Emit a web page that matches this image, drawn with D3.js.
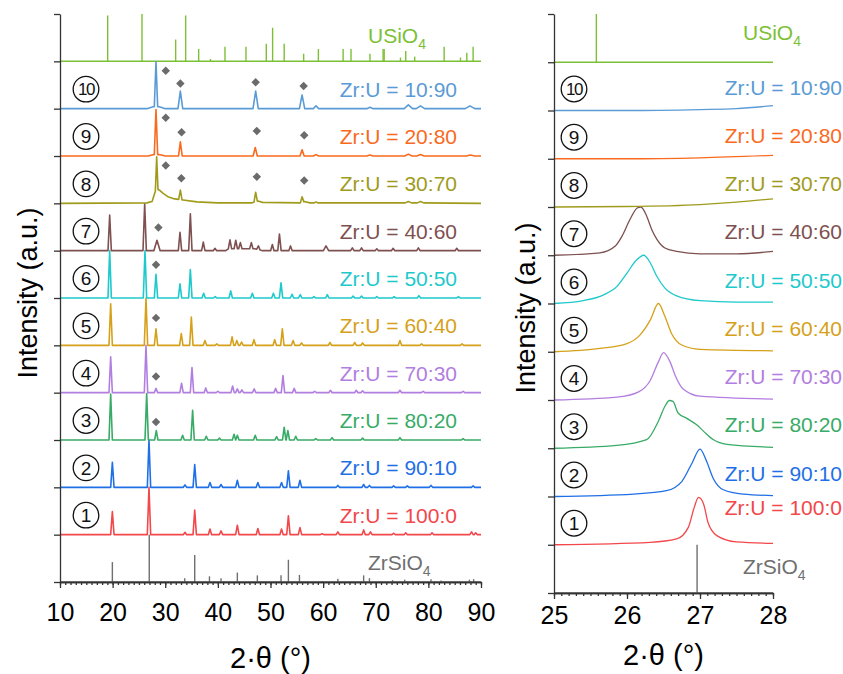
<!DOCTYPE html>
<html><head><meta charset="utf-8">
<script src="https://cdn.jsdelivr.net/npm/d3@7"></script>
<style>body{margin:0;background:#fff} svg{display:block} text{font-family:"Liberation Sans",Arial,sans-serif}</style>
</head><body><svg id="c" width="843" height="674"></svg>
<script>
// ---------- DATA ----------
const sampleNumbers = ["1","2","3","4","5","6","7","8","9","10"];
const sampleLabels = ["Zr:U = 100:0","Zr:U = 90:10","Zr:U = 80:20","Zr:U = 70:30","Zr:U = 60:40",
  "Zr:U = 50:50","Zr:U = 40:60","Zr:U = 30:70","Zr:U = 20:80","Zr:U = 10:90"];
const sampleColors = ["#f2474b","#1f6fe6","#38ab67","#b27ee0","#d6a11a","#1ec9cc","#7e5050","#a09b1c","#fa6a1e","#5b9bd5"];
const leftTicks = [10,20,30,40,50,60,70,80,90];
const rightTicks = [25,26,27,28];

// reference stick patterns [2theta, rel. intensity]
const usio4Sticks = [[19.06,0.97],[25.58,1.0],[31.98,0.46],[33.88,0.97],[36.35,0.26],[38.6,0.05],[41.35,0.31],[45.34,0.31],
  [49.2,0.37],[50.4,0.71],[52.6,0.37],[56.3,0.16],[59.1,0.26],[63.8,0.26],[65.3,0.26],[68.9,0.16],[71.4,0.26],[71.6,0.26],
  [74.7,0.08],[75.7,0.22],[77.4,0.1],[83.0,0.31],[86.1,0.08],[87.3,0.18],[88.5,0.31]];
const zrsio4Sticks = [[19.95,0.42],[26.96,1.0],[33.7,0.08],[35.6,0.57],[38.4,0.12],[40.6,0.08],[43.7,0.2],[47.5,0.14],
  [52.0,0.14],[53.4,0.47],[55.5,0.15],[59.8,0.02],[62.8,0.07],[67.7,0.14],[68.8,0.08],[73.2,0.04],[75.5,0.05],[80.5,0.06],
  [82.4,0.03],[87.8,0.05],[88.6,0.06]];

// full scans (10-90°): peaks [2theta, height, optional half-width]
const peaks1 = [[19.95,0.49],[26.91,1.0],[33.75,0.05],[35.6,0.52],[38.5,0.12],[40.6,0.08],[43.7,0.2],[47.6,0.13],[52.1,0.12],
  [53.4,0.4],[55.6,0.15],[59.8,0.02],[62.8,0.06],[67.7,0.1],[69.0,0.06],[73.4,0.03],[75.7,0.04],[80.7,0.04],[88.2,0.06],[89.0,0.04]];
const peaks2 = [[19.95,0.53],[26.91,1.0],[33.75,0.05],[35.6,0.48],[38.5,0.1],[40.6,0.06],[43.7,0.15],[47.6,0.1],[52.1,0.1],
  [53.4,0.35],[55.6,0.15],[62.8,0.04],[67.7,0.06],[68.8,0.04],[73.4,0.03],[76.0,0.03],[80.5,0.04],[88.5,0.03]];
const peaks3 = [[19.63,0.97],[26.47,0.98],[28.3,0.2],[33.3,0.1],[35.2,0.63],[37.8,0.08],[40.3,0.04],[43.07,0.12],[43.7,0.1],
  [47.1,0.1],[51.16,0.07],[52.6,0.27],[53.3,0.2],[54.8,0.08],[58.6,0.03],[61.7,0.05],[67.5,0.04],[74.6,0.05],[86.6,0.03]];
const peaks4 = [[19.63,0.76],[26.34,1.0],[28.24,0.09],[33.1,0.2],[35.08,0.53],[37.7,0.1],[40.0,0.03],[42.8,0.14],[43.7,0.08],
  [44.55,0.06],[46.9,0.08],[50.97,0.09],[52.37,0.36],[54.5,0.09],[58.4,0.03],[61.4,0.05],[66.3,0.05],[67.5,0.04],[74.6,0.05],
  [79.0,0.03],[86.6,0.03]];
const peaks5 = [[19.63,0.88],[26.34,1.0],[28.24,0.35],[33.05,0.25],[34.96,0.6],[37.55,0.1],[39.8,0.03],[42.7,0.18],[43.6,0.1],
  [44.5,0.07],[46.86,0.12],[50.8,0.12],[52.25,0.35],[54.3,0.1],[55.9,0.05],[61.3,0.06],[66.0,0.06],[67.5,0.05],[74.6,0.1],
  [78.7,0.03],[86.4,0.03]];
const peaks6 = [[19.44,1.0],[26.15,1.0],[28.24,0.5],[32.8,0.3],[34.77,0.6],[37.3,0.1],[39.5,0.03],[42.44,0.15],[46.55,0.1],
  [50.55,0.1],[52.0,0.32],[54.1,0.08],[55.66,0.07],[58.26,0.03],[60.8,0.07],[65.7,0.04],[67.3,0.04],[70.2,0.03],[73.5,0.03],
  [78.2,0.05],[85.7,0.03]];
const peaks7 = [[19.44,0.75],[26.09,0.99],[28.43,0.22,0.6],[32.8,0.39],[34.77,0.78],[37.23,0.18],[39.45,0.05],[42.3,0.19],
  [43.4,0.18],[44.27,0.13],[46.36,0.13],[47.7,0.08],[50.35,0.13],[51.7,0.35],[53.8,0.1],[60.55,0.1,0.5],[65.55,0.06],[67.3,0.06],
  [70.2,0.04],[73.3,0.05],[78.1,0.06],[85.4,0.05]];
const peaks8 = [[28.37,0.7,0.25],[32.87,0.2],[47.18,0.2],[56.0,0.12],[58.65,0.02],[76.2,0.03,0.6],[78.5,0.03,0.6]];
const peaks9 = [[28.24,0.95],[32.87,0.3,0.35],[47.1,0.18,0.4],[56.0,0.13,0.4],[58.65,0.03,0.5],[68.9,0.02,0.6],[76.2,0.04,0.7],
  [78.5,0.03,0.7],[88.0,0.02,0.8]];
const peaks10 = [[28.24,0.95],[32.87,0.37,0.45],[47.18,0.37,0.5],[56.0,0.29,0.5],[58.65,0.06,0.5],[68.9,0.03,0.6],
  [76.2,0.08,0.8],[78.5,0.06,0.8],[87.9,0.06,0.9]];
// broad backgrounds under the peaks
const hump7 = [[41.5,0],[42.0,0.04],[47.0,0.04],[48.5,0]];
const hump8 = [[26.5,0.01],[27.5,0.04],[28.1,0.25],[28.5,0.3],[29.0,0.27],[29.6,0.21],[30.5,0.14],[31.5,0.1],[33.4,0.07],
  [36,0.03],[40,0.01],[46.5,0.01],[47.6,0.05],[48.5,0.02],[55.8,0.01],[56.4,0.04],[57.5,0.01]];
const hump9 = [[26.8,0],[27.8,0.03],[28.8,0.03],[30,0]];
const hump10 = [[26.5,0],[27.7,0.04],[28.9,0.04],[30,0]];

// diamonds (secondary phase) [2theta, height above trace baseline]
const diamonds3 = [[28.24,0.38]];
const diamonds4 = [[28.24,0.34]];
const diamonds5 = [[28.24,0.58]];
const diamonds6 = [[28.24,0.70]];
const diamonds7 = [[28.7,0.49]];
const diamonds8 = [[30.1,0.80],[33.05,0.53],[47.4,0.56],[56.4,0.48]];
const diamonds9 = [[30.1,0.81],[33.1,0.50],[47.4,0.53],[56.4,0.44]];
const diamonds10 = [[30.1,0.80],[32.87,0.53],[47.18,0.56],[56.3,0.48]];

// zoomed scans (25-28°) [2theta, intensity]
const zoom1 = [[25,0],[26.32,0.05],[26.68,0.12],[26.84,0.36],[26.92,0.77],[26.98,0.98],[27.05,0.84],[27.11,0.46],[27.23,0.19],[27.5,0.06],[28,0.03]];
const zoom2 = [[25,0],[26.09,0.05],[26.54,0.12],[26.75,0.31],[26.89,0.69],[27.0,0.98],[27.09,0.73],[27.18,0.38],[27.32,0.14],[27.59,0.05],[28,0.02]];
const zoom3 = [[25,0],[25.86,0.06],[26.27,0.18],[26.43,0.56],[26.52,0.87],[26.58,0.99],[26.63,0.97],[26.7,0.73],[26.82,0.62],[26.95,0.49],[27.05,0.35],[27.18,0.18],[27.37,0.08],[28,0.02]];
const zoom4 = [[25,0],[25.86,0.06],[26.16,0.17],[26.32,0.41],[26.43,0.79],[26.5,0.98],[26.59,0.79],[26.66,0.51],[26.77,0.23],[27.0,0.08],[28,0.02]];
const zoom5 = [[25,0],[25.63,0.07],[26.0,0.17],[26.18,0.35],[26.32,0.66],[26.43,1.0],[26.52,0.73],[26.61,0.38],[26.75,0.14],[27.0,0.05],[28,0.02]];
const zoom6 = [[25,0],[25.4,0.06],[25.68,0.18],[25.86,0.35],[26.0,0.63],[26.13,0.9],[26.23,1.0],[26.32,0.84],[26.41,0.56],[26.52,0.32],[26.68,0.16],[27.0,0.06],[27.5,0.03],[28,0.03]];
const zoom7 = [[25,0],[25.63,0.05],[25.84,0.19],[25.93,0.39],[26.04,0.74],[26.14,0.98],[26.19,1.0],[26.27,0.81],[26.34,0.53],[26.41,0.33],[26.52,0.15],[26.68,0.08],[27.0,0.03],[27.5,0.03],[28,0.08]];
const zoom8 = [[25,0],[26,0.01],[27,0.05],[27.5,0.1],[28,0.17]];
const zoom9 = [[25,0],[26,0],[27,0.02],[28,0.07]];
const zoom10 = [[25,0],[26,0],[27,0.02],[27.5,0.04],[28,0.1]];

const fullPeaks = [peaks1,peaks2,peaks3,peaks4,peaks5,peaks6,peaks7,peaks8,peaks9,peaks10];
const fullHumps = [null,null,null,null,null,null,hump7,hump8,hump9,hump10];
const fullDiamonds = [[],[],diamonds3,diamonds4,diamonds5,diamonds6,diamonds7,diamonds8,diamonds9,diamonds10];
const zoomScans = [zoom1,zoom2,zoom3,zoom4,zoom5,zoom6,zoom7,zoom8,zoom9,zoom10];

// ---------- DRAW ----------
const svg = d3.select("#c");
const axisColor = "#333";
const refGreen = "#7cc035", refGray = "#6f6f6f";

function bgAt(hump, xv){
  if(!hump) return 0;
  const pts = [[-1e9,0]].concat(hump,[[1e9,0]]);
  for(let k=0;k<pts.length-1;k++){
    const a=pts[k], b=pts[k+1];
    if(xv>=a[0] && xv<=b[0]) return a[1] + (b[1]-a[1])*(xv-a[0])/(b[0]-a[0]);
  }
  return 0;
}
function vertices(peaks, hump, lo, hi){
  const hwDef = 0.32;
  const ranges = peaks.map(p=>[p[0]-(p[2]||hwDef), p[0]+(p[2]||hwDef)]);
  let pts = [[lo,0],[hi,0]].concat(hump||[]).filter(v=>!ranges.some(r=>v[0]>r[0]&&v[0]<r[1]));
  peaks.forEach(p=>{
    const w = p[2]||hwDef;
    pts.push([p[0]-w,bgAt(hump,p[0]-w)],[p[0],bgAt(hump,p[0])+p[1]],[p[0]+w,bgAt(hump,p[0]+w)]);
  });
  pts = pts.filter(v=>v[0]>=lo&&v[0]<=hi);
  pts.sort((a,b)=>a[0]-b[0]);
  return pts;
}

const panels = [
  {lo:10, hi:90, xr:[60,481], yr:[582,14], ticks:leftTicks, nMinor:80, labPad:20.7, titleY:668, yTitleX:37, yTitleY:293,
   circX:86, circOff:19.5, labX:457, labOff:12, refLabX:368, full:true, lw:1.6},
  {lo:25, hi:28, xr:[554,773], yr:[593,14], ticks:rightTicks, nMinor:30, labPad:13.3, titleY:665, yTitleX:535, yTitleY:308,
   circX:574, circOff:21.5, labX:842, labOff:16, refLabX:743, full:false, lw:1.3}
];

panels.forEach(P=>{
  const x = d3.scaleLinear().domain([P.lo,P.hi]).range(P.xr);
  const y = d3.scaleLinear().domain([0,12]).range(P.yr);
  const g = svg.append("g");
  const clipId = "clip"+P.lo;
  svg.append("clipPath").attr("id",clipId).append("rect")
    .attr("x",P.xr[0]).attr("y",0).attr("width",P.xr[1]-P.xr[0]+1).attr("height",P.yr[0]);
  const plot = g.append("g").attr("clip-path",`url(#${clipId})`);

  // reference patterns
  const refs = [{sticks:zrsio4Sticks, base:0, color:refGray},
                {sticks:usio4Sticks, base:11, color:refGreen}];
  refs.forEach(R=>{
    plot.append("line").attr("x1",x(P.lo)).attr("x2",x(P.hi)).attr("y1",y(R.base)).attr("y2",y(R.base))
      .attr("stroke",R.color).attr("stroke-width",1.5);
    plot.selectAll(null).data(R.sticks.filter(s=>s[0]>=P.lo&&s[0]<=P.hi)).join("line")
      .attr("x1",d=>x(d[0])).attr("x2",d=>x(d[0])).attr("y1",y(R.base)).attr("y2",d=>y(R.base+d[1]))
      .attr("stroke",R.color).attr("stroke-width",1.4);
  });
  // reference labels
  const zl = svg.append("text").attr("x",P.refLabX).attr("y",P.full?570:574).attr("font-size",21).attr("fill",refGray);
  zl.append("tspan").text("ZrSiO"); zl.append("tspan").attr("font-size",14).attr("dy",6).text("4");
  const ul = svg.append("text").attr("x",P.refLabX).attr("y",P.full?43:40).attr("font-size",21).attr("fill",refGreen);
  ul.append("tspan").text("USiO"); ul.append("tspan").attr("font-size",14).attr("dy",6).text("4");

  // sample traces
  for(let i=0;i<10;i++){
    const off = i+1;
    const pts = P.full ? vertices(fullPeaks[i], fullHumps[i], P.lo, P.hi) : zoomScans[i];
    const line = d3.line().x(d=>x(d[0])).y(d=>y(off+d[1])).curve(P.full?d3.curveLinear:d3.curveMonotoneX);
    plot.append("path").attr("d",line(pts)).attr("fill","none").attr("stroke",sampleColors[i])
      .attr("stroke-width",P.lw).attr("stroke-linejoin","round");
    if(P.full){
      plot.selectAll(null).data(fullDiamonds[i]).join("path")
        .attr("d",d3.symbol(d3.symbolSquare,36)())
        .attr("transform",d=>`translate(${x(d[0])},${y(off+d[1])}) rotate(45)`).attr("fill","#6b6b6b");
    }
    // labels
    const lo = (!P.full && i===0) ? 30 : P.labOff;
    svg.append("text").attr("x",P.labX).attr("y",y(off)-lo).attr("text-anchor","end")
      .attr("font-size",21).attr("fill",sampleColors[i]).text(sampleLabels[i]);
    const cy = y(off)-P.circOff;
    svg.append("circle").attr("cx",P.circX).attr("cy",cy).attr("r",12.8)
      .attr("fill","none").attr("stroke","#111").attr("stroke-width",1.3);
    const two = sampleNumbers[i].length>1;
    svg.append("text").attr("x",P.circX).attr("y",cy).attr("dy","0.36em").attr("text-anchor","middle")
      .attr("font-size",two?17:19).attr("letter-spacing",two?-1.5:0)
      .attr("fill","#111").text(sampleNumbers[i]);
  }

  // axes
  const xMinor = g.append("g").attr("transform",`translate(0,${P.yr[0]})`)
    .call(d3.axisBottom(x).ticks(P.nMinor).tickSize(3).tickFormat("").tickSizeOuter(0));
  const xAx = g.append("g").attr("transform",`translate(0,${P.yr[0]})`)
    .call(d3.axisBottom(x).tickValues(P.ticks).tickSize(6).tickSizeOuter(0).tickFormat(d3.format("d")));
  xAx.selectAll("text").attr("font-size",25).attr("font-family","'Liberation Sans',Arial,sans-serif")
    .attr("fill","#000").attr("y",P.labPad).attr("dy","0.716em");
  const yAx = g.append("g").attr("transform",`translate(${P.xr[0]},0)`)
    .call(d3.axisLeft(y).tickValues(d3.range(0,13)).tickSize(6).tickSizeOuter(0).tickFormat(""));
  [xMinor,xAx,yAx].forEach(a=>{a.selectAll("path,line").attr("stroke",axisColor).attr("stroke-width",1.3);});

  // titles
  svg.append("text").attr("x",(P.xr[0]+P.xr[1])/2).attr("y",P.titleY).attr("text-anchor","middle")
    .attr("font-size",29).attr("fill","#000").text("2·θ (°)");
  svg.append("text").attr("transform",`translate(${P.yTitleX},${P.yTitleY}) rotate(-90)`).attr("text-anchor","middle")
    .attr("font-size",27).attr("fill","#000").text("Intensity (a.u.)");
});
</script></body></html>
